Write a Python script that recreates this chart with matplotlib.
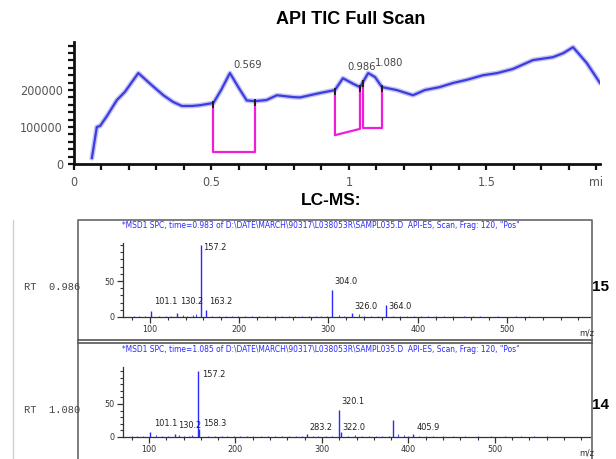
import matplotlib
matplotlib.use("Agg")
import matplotlib.pyplot as plt
import numpy as np
from matplotlib.ticker import MultipleLocator, FixedLocator


W, H = 616, 459

# TIC chromatogram (time in min, abundance)
tic_time = [0.065, 0.083, 0.095, 0.12, 0.156, 0.185, 0.234, 0.28, 0.325, 0.36,
            0.392, 0.43, 0.458, 0.507, 0.535, 0.567, 0.60, 0.628, 0.658, 0.70,
            0.738, 0.797, 0.822, 0.858, 0.895, 0.949, 0.978, 1.015, 1.04, 1.07,
            1.095, 1.12, 1.174, 1.233, 1.276, 1.33, 1.378, 1.43, 1.487, 1.54,
            1.596, 1.669, 1.742, 1.78, 1.815, 1.865, 1.913]
tic_value = [16000, 100000, 103000, 130000, 173000, 195000, 246000, 215000, 186000, 168000,
             157000, 157000, 159000, 165000, 200000, 246000, 205000, 172000, 170000, 173000,
             186000, 181000, 180000, 186000, 192000, 200000, 232000, 217000, 208000, 246000,
             235000, 208000, 200000, 186000, 200000, 208000, 219000, 228000, 240000, 246000,
             257000, 281000, 289000, 300000, 316000, 273000, 219000]

# integrated peaks
peak_rt = ["0.569", "0.986", "1.080"]
peak_start = [0.505, 0.949, 1.051]
peak_end = [0.658, 1.040, 1.120]
base_start = [32000, 78000, 97000]
base_end = [32000, 95000, 97000]

# mass spectra (m/z, relative abundance)
ms1_mz = [101.1, 130.2, 157.2, 163.2, 304.0, 326.0, 364.0]
ms1_int = [8, 5, 100, 10, 37, 6, 16]
ms1_noise_mz = [82, 88, 95, 110, 118, 124, 137, 142, 148, 152, 170, 178, 185, 192, 199,
                207, 215, 222, 231, 240, 248, 256, 263, 270, 278, 286, 292, 298, 312, 318,
                334, 340, 348, 356, 372, 380, 388, 396, 404, 412, 420, 430, 440, 452, 462,
                470, 490, 510, 525]
ms1_noise_int = [2, 1, 2, 2, 1, 2, 3, 2, 3, 4, 2, 1, 2, 2, 1,
                 2, 1, 2, 1, 2, 1, 2, 1, 2, 1, 2, 1, 2, 3, 2,
                 4, 2, 1, 2, 2, 1, 2, 1, 2, 1, 2, 1, 2, 1, 2,
                 1, 2, 1, 1]

ms2_mz = [101.1, 130.2, 157.2, 158.3, 283.2, 320.1, 322.0, 382.0, 405.9]
ms2_int = [8, 5, 100, 12, 5, 41, 8, 26, 5]
ms2_noise_mz = [80, 86, 93, 108, 115, 122, 135, 140, 146, 150, 168, 176, 184, 190, 198,
                205, 213, 220, 229, 238, 246, 254, 262, 270, 277, 290, 296, 305, 312, 330,
                338, 346, 354, 362, 370, 378, 388, 395, 400, 412, 420, 428, 440, 452, 466,
                480, 495, 512, 530, 545, 560]
ms2_noise_int = [2, 1, 2, 3, 1, 2, 3, 2, 2, 3, 2, 1, 2, 2, 1,
                 2, 1, 2, 1, 2, 1, 2, 1, 2, 1, 2, 1, 2, 1, 2,
                 3, 2, 1, 2, 1, 2, 4, 3, 2, 2, 1, 2, 1, 2, 1,
                 2, 1, 1, 1, 1, 2]

ms_title = ('*MSD1 SPC, time={} of D:\\DATE\\MARCH\\90317\\L038053R\\SAMPL035.D  '
            'API-ES, Scan, Frag: 120, "Pos"')

NARROW = dict(family="DejaVu Sans", fontstretch="condensed")


def px_axes(fig, x0, y0, x1, y1):
    return fig.add_axes([x0 / W, 1 - y1 / H, (x1 - x0) / W, (y1 - y0) / H])


def fig_text(fig, x, y, s, **kw):
    fig.text(x / W, 1 - y / H, s, **kw)


def draw_spectrum(ax, mz, inten, noise_mz, noise_int, labels, xmax, ymax):
    ax.vlines(noise_mz, 0, noise_int, color="#4a4aff", lw=0.8)
    ax.vlines(mz, 0, inten, color="#2a2aff", lw=1.0)
    for text, lx, ly in labels:
        ax.text(lx, ly, text, fontsize=6.6, color="#222222",
                ha="left", va="center", **NARROW)
    ax.set_xlim(70, xmax)
    ax.set_ylim(0, ymax)
    for side in ["top", "right"]:
        ax.spines[side].set_visible(False)
    for side in ["left", "bottom"]:
        ax.spines[side].set_linewidth(0.9)
        ax.spines[side].set_color("#333333")
    ax.xaxis.set_major_locator(FixedLocator([100, 200, 300, 400, 500]))
    ax.xaxis.set_minor_locator(MultipleLocator(20))
    ax.yaxis.set_major_locator(FixedLocator([0, 50]))
    ax.yaxis.set_minor_locator(MultipleLocator(10))
    ax.tick_params(which="major", length=4, width=0.9, pad=2, labelsize=6.5,
                   colors="#333333")
    ax.tick_params(which="minor", length=2.5, width=0.8, colors="#333333")
    for lab in ax.get_xticklabels() + ax.get_yticklabels():
        lab.set_family(NARROW["family"])
        lab.set_fontstretch(NARROW["fontstretch"])
    ax.patch.set_alpha(0)


def main():
    fig = plt.figure(figsize=(W / 100, H / 100), dpi=100)

    fig_text(fig, 351, 20, "API TIC Full Scan", fontsize=13, weight="bold",
             family="Liberation Sans", ha="center", va="center")
    fig_text(fig, 331, 200, "LC-MS:", fontsize=12.5, weight="bold",
             family="Liberation Sans", ha="center", va="center")

    # chromatogram
    ax = px_axes(fig, 74, 42, 600, 164)
    ax.plot(tic_time, tic_value, color="#c4c4f6", lw=3.6, solid_capstyle="round")
    ax.plot(tic_time, tic_value, color="#3c3ce0", lw=1.6)
    for t0, t1, b0, b1 in zip(peak_start, peak_end, base_start, base_end):
        y0 = np.interp(t0, tic_time, tic_value)
        y1 = np.interp(t1, tic_time, tic_value)
        ax.plot([t0, t0, t1, t1], [y0, b0, b1, y1], color="#f01cd8", lw=1.6)
        ax.vlines([t0, t1], [y0 - 14000, y1 - 14000], [y0 + 6000, y1 + 6000],
                  color="#202020", lw=1.4)
    label_pos = [(0.578, 267000), (0.993, 262000), (1.095, 273000)]
    for rt, (lx, ly) in zip(peak_rt, label_pos):
        ax.text(lx, ly, rt, fontsize=8, color="#444444",
                ha="left", va="center", **NARROW)
    ax.set_xlim(0, 1.913)
    ax.set_ylim(0, 330000)
    for side in ["top", "right"]:
        ax.spines[side].set_visible(False)
    for side in ["left", "bottom"]:
        ax.spines[side].set_linewidth(2)
        ax.spines[side].set_color("#111111")
    ax.xaxis.set_major_locator(FixedLocator([0, 0.5, 1, 1.5]))
    ax.xaxis.set_major_formatter(plt.FuncFormatter(lambda v, p: f"{v:g}"))
    ax.xaxis.set_minor_locator(MultipleLocator(0.1))
    ax.yaxis.set_major_locator(FixedLocator([0, 100000, 200000]))
    ax.yaxis.set_major_formatter(plt.FuncFormatter(lambda v, p: f"{v:.0f}"))
    ax.yaxis.set_minor_locator(MultipleLocator(20000))
    ax.tick_params(which="both", length=4, width=1.6, colors="#111111",
                   labelcolor="#555555", labelsize=9)
    ax.tick_params(axis="x", pad=5)
    ax.tick_params(axis="y", pad=4)
    for lab in ax.get_xticklabels() + ax.get_yticklabels():
        lab.set_family(NARROW["family"])
        lab.set_fontstretch(NARROW["fontstretch"])
    ax.patch.set_alpha(0)
    fig_text(fig, 589, 182, "mi", fontsize=9, color="#555555",
             ha="left", va="center", **NARROW)

    # frame around the spectra
    frame = fig.add_axes([0, 0, 1, 1], zorder=-1)
    frame.set_xlim(0, W)
    frame.set_ylim(H, 0)
    frame.axis("off")
    frame.plot([13, 13], [220, H], color="#d0d0d0", lw=1)
    frame.plot([78, 78, 592, 592], [H, 220, 220, H], color="#666666", lw=1.2)
    frame.plot([78, 592], [340, 340], color="#555555", lw=1.2)
    frame.plot([78, 592], [343, 343], color="#555555", lw=1.2)

    # spectrum 1
    ax1 = px_axes(fig, 123, 243, 590, 317)
    labels1 = [("157.2", 159.3, 97), ("101.1", 104.5, 22), ("130.2", 133.6, 22),
               ("163.2", 166.0, 22), ("304.0", 307.0, 50), ("326.0", 329.6, 15),
               ("364.0", 367.6, 14)]
    draw_spectrum(ax1, ms1_mz, ms1_int, ms1_noise_mz, ms1_noise_int, labels1, 593, 102.8)
    fig_text(fig, 122, 225, ms_title.format("0.983"), fontsize=6, color="#2a2aff",
             ha="left", va="center", **NARROW)
    fig_text(fig, 579, 333, "m/z", fontsize=6.5, color="#333333",
             ha="left", va="center", **NARROW)
    fig_text(fig, 24, 287, "RT  0.986", fontsize=7.5, family="Liberation Mono",
             color="#444444", ha="left", va="center")
    fig_text(fig, 592, 287, "15", fontsize=11, weight="bold",
             family="Liberation Sans", ha="left", va="center")

    # spectrum 2
    ax2 = px_axes(fig, 123, 367, 590, 437)
    labels2 = [("157.2", 161.0, 94), ("101.1", 105.8, 20), ("130.2", 134.0, 18),
               ("158.3", 162.5, 20), ("320.1", 322.0, 53), ("283.2", 286.0, 15),
               ("322.0", 324.0, 15), ("405.9", 410.0, 15)]
    draw_spectrum(ax2, ms2_mz, ms2_int, ms2_noise_mz, ms2_noise_int, labels2, 610, 106)
    fig_text(fig, 122, 350, ms_title.format("1.085"), fontsize=6, color="#2a2aff",
             ha="left", va="center", **NARROW)
    fig_text(fig, 579, 453, "m/z", fontsize=6.5, color="#333333",
             ha="left", va="center", **NARROW)
    fig_text(fig, 24, 410, "RT  1.080", fontsize=7.5, family="Liberation Mono",
             color="#444444", ha="left", va="center")
    fig_text(fig, 592, 405, "14", fontsize=11, weight="bold",
             family="Liberation Sans", ha="left", va="center")

    fig.savefig("out.png", dpi=100)


if __name__ == "__main__":
    main()
